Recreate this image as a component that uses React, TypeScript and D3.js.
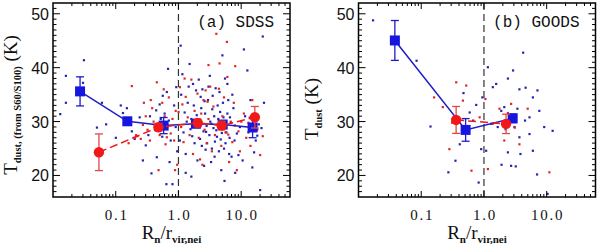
import { scaleLog, scaleLinear, line } from "d3";

const W = 600;
const H = 245;
const TOP = 3;
const BOTTOM = 197;
const PW = 237;

// binned means, panel (a) SDSS
const sdssBlueX = [0.027, 0.153, 0.58, 1.9, 5.07, 15.2];
const sdssBlueY = [35.6, 30.05, 29.25, 29.6, 29.45, 28.9];
const sdssBlueErr = [2.7, 0.6, 1.5, 0.7, 0.6, 1.9];
const sdssRedX = [0.054, 0.48, 2.03, 4.87, 16.5];
const sdssRedY = [24.3, 28.95, 29.75, 29.25, 30.8];
const sdssRedErr = [3.4, 0.7, 0.7, 0.8, 2.0];

// binned means, panel (b) GOODS
const goodsBlueX = [0.038, 0.51, 2.87];
const goodsBlueY = [45.05, 28.45, 30.6];
const goodsBlueErr = [3.7, 2.1, 0.8];
const goodsRedX = [0.36, 2.25];
const goodsRedY = [30.3, 29.57];
const goodsRedErr = [2.5, 1.8];

// individual galaxies
const sdssBlueDots = [
  [0.013, 31.4], [0.016, 38.5], [0.016, 33.5], [0.031, 41.4], [0.03, 37.2], [0.06, 33.5],
  [0.05, 28.9], [0.07, 29.5], [0.12, 33], [0.13, 31.6], [0.1, 27.0], [0.15, 32.5],
  [0.18, 28.2], [0.2, 26.8], [0.24, 30.8], [0.27, 22.8], [0.37, 20.4], [0.44, 32.1],
  [0.56, 34.8], [0.64, 18.4], [0.8, 18.4], [0.68, 39.8], [0.92, 36.4], [0.3, 25.6],
  [0.35, 31], [0.42, 28.5], [0.5, 33.2], [0.55, 27.2], [0.6, 31.5], [0.7, 30.2],
  [0.75, 26.5], [0.85, 33], [0.9, 29], [0.95, 24.5], [0.45, 23.4], [0.65, 35.5],
  [0.72, 22.5], [0.33, 27.5], [0.52, 30.5], [1.08, 44.1], [1.25, 31.7], [1.3, 24],
  [1.5, 40.7], [1.7, 37], [1.1, 35], [1.2, 28], [1.4, 33.5], [1.6, 30.5], [1.8, 26],
  [1.9, 35.8], [2.1, 37.8], [2.3, 32.5], [2.5, 28.2], [2.7, 24.8], [3, 36.5], [3.2, 30],
  [3.5, 34.8], [3.8, 26.3], [4.2, 33], [4.5, 35.5], [5, 42.3], [5.5, 38], [6, 31.5],
  [6.5, 27], [7, 23.5], [1.3, 20.5], [1.6, 19.8], [2, 22.8], [2.2, 26.8], [2.4, 36],
  [2.6, 33.8], [2.8, 29.2], [3.1, 27.5], [3.4, 25], [3.7, 31], [4, 28.4], [4.4, 24.5],
  [4.8, 21], [5.2, 30.8], [5.6, 26], [6.2, 34], [6.8, 29.8], [7.5, 32.5], [8, 20.5],
  [8.5, 27.8], [9, 23.8], [1.15, 38.8], [1.45, 36.5], [1.75, 33], [2.05, 29],
  [2.35, 25.5], [2.65, 31.5], [2.95, 34], [3.3, 22.5], [3.6, 28.8], [3.9, 36.2],
  [4.3, 30.5], [4.7, 26.7], [5.1, 33.5], [5.4, 19], [5.8, 28], [6.4, 24], [7.2, 35],
  [1.05, 26.5], [1.35, 30], [1.65, 27.3], [1.95, 31.2], [2.25, 34.6], [2.55, 21.8],
  [2.85, 26], [3.15, 38.5], [3.45, 32.3], [3.75, 23.5], [4.1, 27.2], [4.6, 31.8],
  [5.3, 25], [6, 37], [6.6, 30.8], [7.8, 26.5], [9.5, 29], [11, 43.4], [12.5, 39.5],
  [13, 28], [14, 34], [16, 24.3], [18, 27.4], [19, 29.5], [20, 17.3], [22, 45.8],
  [23, 33.5], [17, 26.5], [21, 28.8], [11.5, 31], [15, 21.5], [10.5, 22.8],
  [1.55, 28.6], [2.15, 30.2], [2.75, 28.1], [3.35, 29.6], [1.85, 29.4], [4.9, 27.9],
];

const sdssRedDots = [
  [0.16, 26], [0.18, 36.6], [0.2, 27], [0.21, 27.5], [0.22, 27.3], [0.25, 26.8],
  [0.28, 33.5], [0.3, 31], [0.32, 28.5], [0.35, 26.5], [0.38, 32.5], [0.4, 30],
  [0.42, 29.2], [0.45, 37.3], [0.48, 21], [0.5, 27.5], [0.55, 33.5], [0.58, 36],
  [0.6, 31], [0.62, 25.8], [0.66, 29], [0.7, 34.5], [0.75, 27.8], [0.8, 30.5],
  [0.85, 26.5], [0.9, 32], [0.95, 22], [0.88, 21], [1.0, 31.8], [1.05, 36.4], [1.1, 29],
  [1.2, 26.2], [1.3, 34.6], [1.4, 30.8], [1.5, 27.5], [1.6, 37.8], [1.7, 24], [1.8, 32],
  [1.9, 29.5], [2.0, 35.2], [2.1, 27], [2.2, 23], [2.3, 31.5], [2.4, 22], [2.5, 34],
  [2.6, 28.5], [2.8, 26], [3, 30.5], [3.2, 36.5], [3.4, 24.5], [3.6, 32.8], [3.8, 27.5],
  [4, 46.3], [4.2, 29.5], [4.5, 40.8], [4.8, 25.5], [5, 31], [5.3, 34.5], [5.6, 28],
  [6, 38.3], [6.4, 22.5], [6.8, 30], [7.2, 26.2], [7.6, 33.5], [8, 40.3], [8.5, 21],
  [9, 28.2], [9.5, 24.5], [10, 30], [11, 31.5], [12, 27], [13, 29.8], [14, 25.5],
  [16, 31], [18, 28.5], [20, 23.8], [22, 27.3], [15, 34], [3, 40.5], [2.7, 35.8],
  [1.25, 38], [0.36, 34], [5.9, 44.8], [0.27, 29.4], [0.65, 27.1], [1.15, 33.2],
  [2.9, 33.7], [4.4, 36.1], [6.2, 27.6], [7.9, 29.3],
];

const goodsBlueDots = [
  [0.017, 48.8], [0.084, 41.3], [0.14, 29.1], [0.27, 20.6], [0.35, 22.75], [0.47, 35.3],
  [0.41, 25.8], [0.59, 31.7], [0.82, 18.7], [0.9, 24.9], [0.94, 34.5], [1.15, 40.1],
  [1.38, 36.4], [1.56, 37], [1.08, 24.6], [2.1, 32.7], [2.4, 38], [2.9, 39.5],
  [3.66, 36], [4.2, 42.8], [3.8, 24], [3.2, 21.7], [6, 24.6], [7, 20.2], [7.6, 32],
  [9.1, 29], [12.4, 28.3], [10.3, 16.6], [5.3, 30.8], [4.6, 36.3], [2.9, 30.5],
  [2.4, 24.3], [2.7, 21.8], [1.88, 32], [1.65, 29], [6, 34.5], [7.1, 35.8], [5.3, 27.7],
  [3.66, 27.1], [3.05, 29], [0.67, 30.2], [1.3, 29.6], [3.4, 32.4], [2.2, 28.6],
  [4.5, 30.2], [1.9, 22], [0.75, 33.1],
];

const goodsRedDots = [
  [0.16, 34.5], [0.22, 32.7], [0.36, 37.3], [0.52, 36.7], [0.28, 24.9], [0.46, 33.9],
  [0.63, 20.9], [1.15, 21.2], [1.76, 32.4], [2.1, 26.5], [2.7, 33.3], [3.66, 25.8],
  [4.96, 32.4], [11, 20.6], [1.38, 29.6], [0.85, 30.8], [0.31, 29.8], [2.4, 31.6],
  [1.05, 34.2], [3.1, 28.9],
];

const yTicks = [20, 30, 40, 50];
const xTickValues = [0.1, 1, 10];
const xTickLabels = ["0.1", "1.0", "10.0"];

const BLUE = "#1616e0";
const BLUE_LINE = "#1c1cc8";
const BLUE_DOT = "#2424b0";
const RED = "#f01818";
const RED_ERR = "#e04848";
const RED_DOT = "#e02828";

const serif = "'Liberation Serif', 'Times New Roman', serif";
const sans = "'Liberation Sans', Arial, sans-serif";
const mono = "'Liberation Mono', 'Courier New', monospace";

type P = {
  x0: number;
  label: string;
  blueDots: number[][];
  redDots: number[][];
  blueX: number[];
  blueY: number[];
  blueErr: number[];
  redX: number[];
  redY: number[];
  redErr: number[];
  wide: boolean;
};

function Panel(p: P) {
  const x = scaleLog().domain([0.01, 60]).range([p.x0, p.x0 + PW]);
  const y = scaleLinear().domain([16, 52]).range([BOTTOM, TOP]);
  const x1 = p.x0 + PW;

  const minorX: number[] = [];
  [0.01, 0.1, 1, 10].forEach((d) => {
    for (let k = 2; k <= 9; k++) if (d * k < 60) minorX.push(d * k);
  });
  const minorY: number[] = [];
  for (let v = 17; v < 52; v++) if (v % 10 !== 0) minorY.push(v);

  const blueIdx = p.blueX.map((_, i) => i);
  const redIdx = p.redX.map((_, i) => i);
  const lg = line<number>()
    .x((i) => x(p.blueX[i]))
    .y((i) => y(p.blueY[i]));
  const lr = line<number>()
    .x((i) => x(p.redX[i]))
    .y((i) => y(p.redY[i]));

  const errBar = (cx: number, cy: number, e: number, color: string, key: string) => (
    <g key={key} stroke={color} strokeWidth={1.3}>
      <line x1={x(cx)} x2={x(cx)} y1={y(cy - e)} y2={y(cy + e)} />
      <line x1={x(cx) - 4} x2={x(cx) + 4} y1={y(cy - e)} y2={y(cy - e)} />
      <line x1={x(cx) - 4} x2={x(cx) + 4} y1={y(cy + e)} y2={y(cy + e)} />
    </g>
  );

  const cx = p.x0 + PW / 2;
  return (
    <g>
      {p.blueDots.map((d, i) => (
        <rect key={"b" + i} x={x(d[0]) - 1} y={y(d[1]) - 1} width={2.2} height={2.2} fill={BLUE_DOT} />
      ))}
      {p.redDots.map((d, i) => (
        <rect key={"r" + i} x={x(d[0]) - 1} y={y(d[1]) - 1} width={2.2} height={2.2} fill={RED_DOT} />
      ))}
      <line x1={x(1)} x2={x(1)} y1={TOP} y2={BOTTOM} stroke="#333" strokeWidth={1.2} strokeDasharray="7 4" />

      <path d={lg(blueIdx) || ""} fill="none" stroke={BLUE_LINE} strokeWidth={1.5} />
      {blueIdx.map((i) => errBar(p.blueX[i], p.blueY[i], p.blueErr[i], BLUE_LINE, "be" + i))}
      {blueIdx.map((i) => (
        <rect key={"bs" + i} x={x(p.blueX[i]) - 5} y={y(p.blueY[i]) - 5} width={10} height={10} fill={BLUE} />
      ))}

      <path d={lr(redIdx) || ""} fill="none" stroke={RED} strokeWidth={1.5} strokeDasharray="8 4" />
      {redIdx.map((i) => errBar(p.redX[i], p.redY[i], p.redErr[i], RED_ERR, "re" + i))}
      {redIdx.map((i) => (
        <circle key={"rc" + i} cx={x(p.redX[i])} cy={y(p.redY[i])} r={5.2} fill={RED} />
      ))}

      {/* frame and ticks */}
      <rect x={p.x0} y={TOP} width={PW} height={BOTTOM - TOP} fill="none" stroke="#000" strokeWidth={1.5} />
      <g stroke="#000" strokeWidth={1}>
        {xTickValues.map((v) => (
          <g key={"xt" + v}>
            <line x1={x(v)} x2={x(v)} y1={BOTTOM} y2={BOTTOM - 6} />
            <line x1={x(v)} x2={x(v)} y1={TOP} y2={TOP + 6} />
          </g>
        ))}
        {minorX.map((v) => (
          <g key={"xm" + v}>
            <line x1={x(v)} x2={x(v)} y1={BOTTOM} y2={BOTTOM - 3} />
            <line x1={x(v)} x2={x(v)} y1={TOP} y2={TOP + 3} />
          </g>
        ))}
        {yTicks.map((v) => (
          <g key={"yt" + v}>
            <line x1={p.x0} x2={p.x0 + 7} y1={y(v)} y2={y(v)} />
            <line x1={x1} x2={x1 - 7} y1={y(v)} y2={y(v)} />
          </g>
        ))}
        {minorY.map((v) => (
          <g key={"ym" + v}>
            <line x1={p.x0} x2={p.x0 + 3.5} y1={y(v)} y2={y(v)} />
            <line x1={x1} x2={x1 - 3.5} y1={y(v)} y2={y(v)} />
          </g>
        ))}
      </g>

      {yTicks.map((v) => (
        <text key={"yl" + v} x={p.x0 - 4} y={y(v) + 6} textAnchor="end" fontFamily={sans} fontSize={16} fill="#111">
          {v}
        </text>
      ))}
      {xTickValues.map((v, i) => (
        <text key={"xl" + v} x={x(v) + 1} y={220} textAnchor="middle" fontFamily={serif} fontSize={15} letterSpacing={1.8} fill="#111">
          {xTickLabels[i]}
        </text>
      ))}

      <text x={x1 - 16} y={27} textAnchor="end" fontFamily={mono} fontSize={16} fill="#111">
        {p.label}
      </text>

      <text x={cx} y={239} textAnchor="middle" fontFamily={serif} fontSize={19} fill="#111">
        R<tspan fontSize={11} fontWeight="bold" dy={4}>n</tspan>
        <tspan dy={-4}>/r</tspan>
        <tspan fontSize={11} fontWeight="bold" dy={4}>vir,nei</tspan>
      </text>

      {p.wide ? (
        <text transform={`translate(${p.x0 - 36},105) rotate(-90)`} textAnchor="middle" fontFamily={serif} fontSize={19} fill="#111">
          T<tspan fontSize={10.5} fontWeight="bold" dy={4}>dust, (from S60/S100)</tspan>
          <tspan dy={-4}> (K)</tspan>
        </text>
      ) : (
        <text transform={`translate(${p.x0 - 41},109) rotate(-90)`} textAnchor="middle" fontFamily={serif} fontSize={19} fill="#111">
          T<tspan fontSize={10.5} fontWeight="bold" dy={4}>dust</tspan>
          <tspan dy={-4}> (K)</tspan>
        </text>
      )}
    </g>
  );
}

export default function App() {
  return (
    <svg
      width={W}
      height={H}
      viewBox={`0 0 ${W} ${H}`}
      style={{ position: "fixed", left: 0, top: 0, background: "#fff" }}
    >
      <rect width={W} height={H} fill="#fff" />
      <Panel
        x0={53}
        label="(a) SDSS"
        blueDots={sdssBlueDots}
        redDots={sdssRedDots}
        blueX={sdssBlueX}
        blueY={sdssBlueY}
        blueErr={sdssBlueErr}
        redX={sdssRedX}
        redY={sdssRedY}
        redErr={sdssRedErr}
        wide={true}
      />
      <Panel
        x0={358.5}
        label="(b) GOODS"
        blueDots={goodsBlueDots}
        redDots={goodsRedDots}
        blueX={goodsBlueX}
        blueY={goodsBlueY}
        blueErr={goodsBlueErr}
        redX={goodsRedX}
        redY={goodsRedY}
        redErr={goodsRedErr}
        wide={false}
      />
    </svg>
  );
}
